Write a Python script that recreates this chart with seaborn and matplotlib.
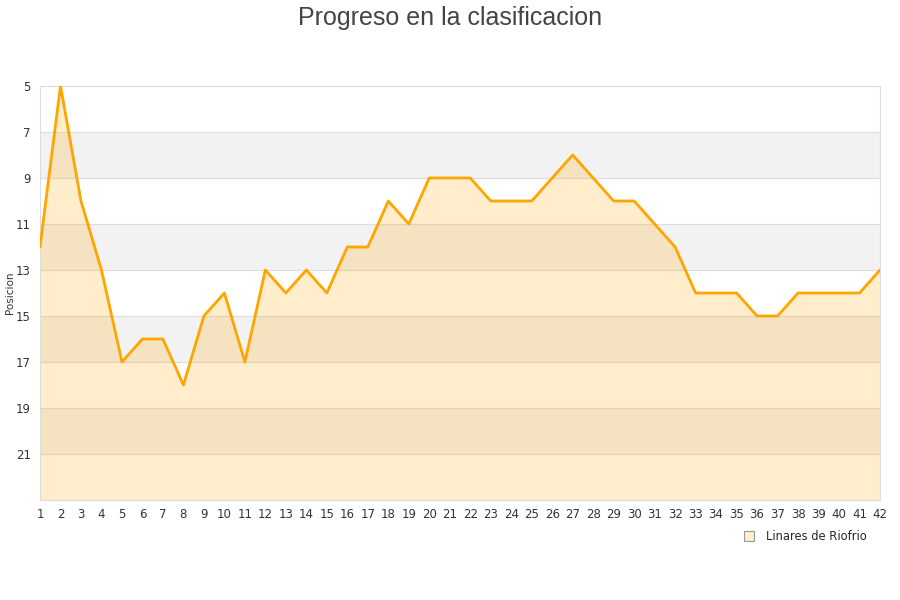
import numpy as np
import seaborn as sns
import matplotlib.pyplot as plt
import pandas as pd
from matplotlib.lines import Line2D

jornadas = list(range(1, 43))
posicion = [12, 5, 10, 13, 17, 16, 16, 18, 15, 14,
            17, 13, 14, 13, 14, 12, 12, 10, 11, 9,
            9, 9, 10, 10, 10, 9, 8, 9, 10, 10,
            11, 12, 14, 14, 14, 15, 15, 14, 14, 14,
            14, 13]
equipo = "Linares de Riofrio"
y_ticks = [5, 7, 9, 11, 13, 15, 17, 19, 21]

df = pd.DataFrame({"jornada": jornadas, "posicion": posicion})

sns.set_style("white")
plt.rcParams['font.family'] = ['DejaVu Sans']

fig = plt.figure(figsize=(9, 6), dpi=100)
ax = fig.add_axes([40 / 900, 100 / 600, 840 / 900, 414 / 600])

# bandas alternas
for lo in [7, 11, 15, 19]:
    ax.axhspan(lo, lo + 2, color="#f2f2f2", zorder=0, lw=0)

ax.fill_between(df["jornada"], df["posicion"], 23, color="#ffa500", alpha=0.2, lw=0, zorder=1)
sns.lineplot(data=df, x="jornada", y="posicion", color="#ffa500", linewidth=2, ax=ax, zorder=3)

ax.set_xlim(1, 42)
ax.set_ylim(23, 5)
ax.set_xticks(jornadas)
ax.set_yticks(y_ticks)
ax.grid(axis="y", color="#dddddd", linewidth=0.8)
ax.set_axisbelow(True)
for s in ax.spines.values():
    s.set_color("#dddddd")
ax.tick_params(axis="both", labelsize=8.5, colors="#333333", length=0)
ax.tick_params(axis="y", pad=6.5)
ax.tick_params(axis="x", pad=6)
ax.set_xlabel("")
ax.set_ylabel("Posicion", fontsize=7.5, color="#333333")
ax.yaxis.set_label_coords(-25 / 840, 0.5)

fig.suptitle("Progreso en la clasificacion", fontsize=18, color="#444444", y=0.99,
             family=["Liberation Sans", "DejaVu Sans"])

h = Line2D([], [], marker="s", linestyle="", markersize=7, markerfacecolor="#ffeecc",
           markeredgecolor="#999999", markeredgewidth=0.8)
fig.legend([h], [equipo], loc="center", bbox_to_anchor=(802 / 900, 1 - 537 / 600),
           frameon=False, fontsize=8.3, handletextpad=0.5)

fig.savefig("out.png", dpi=100)
